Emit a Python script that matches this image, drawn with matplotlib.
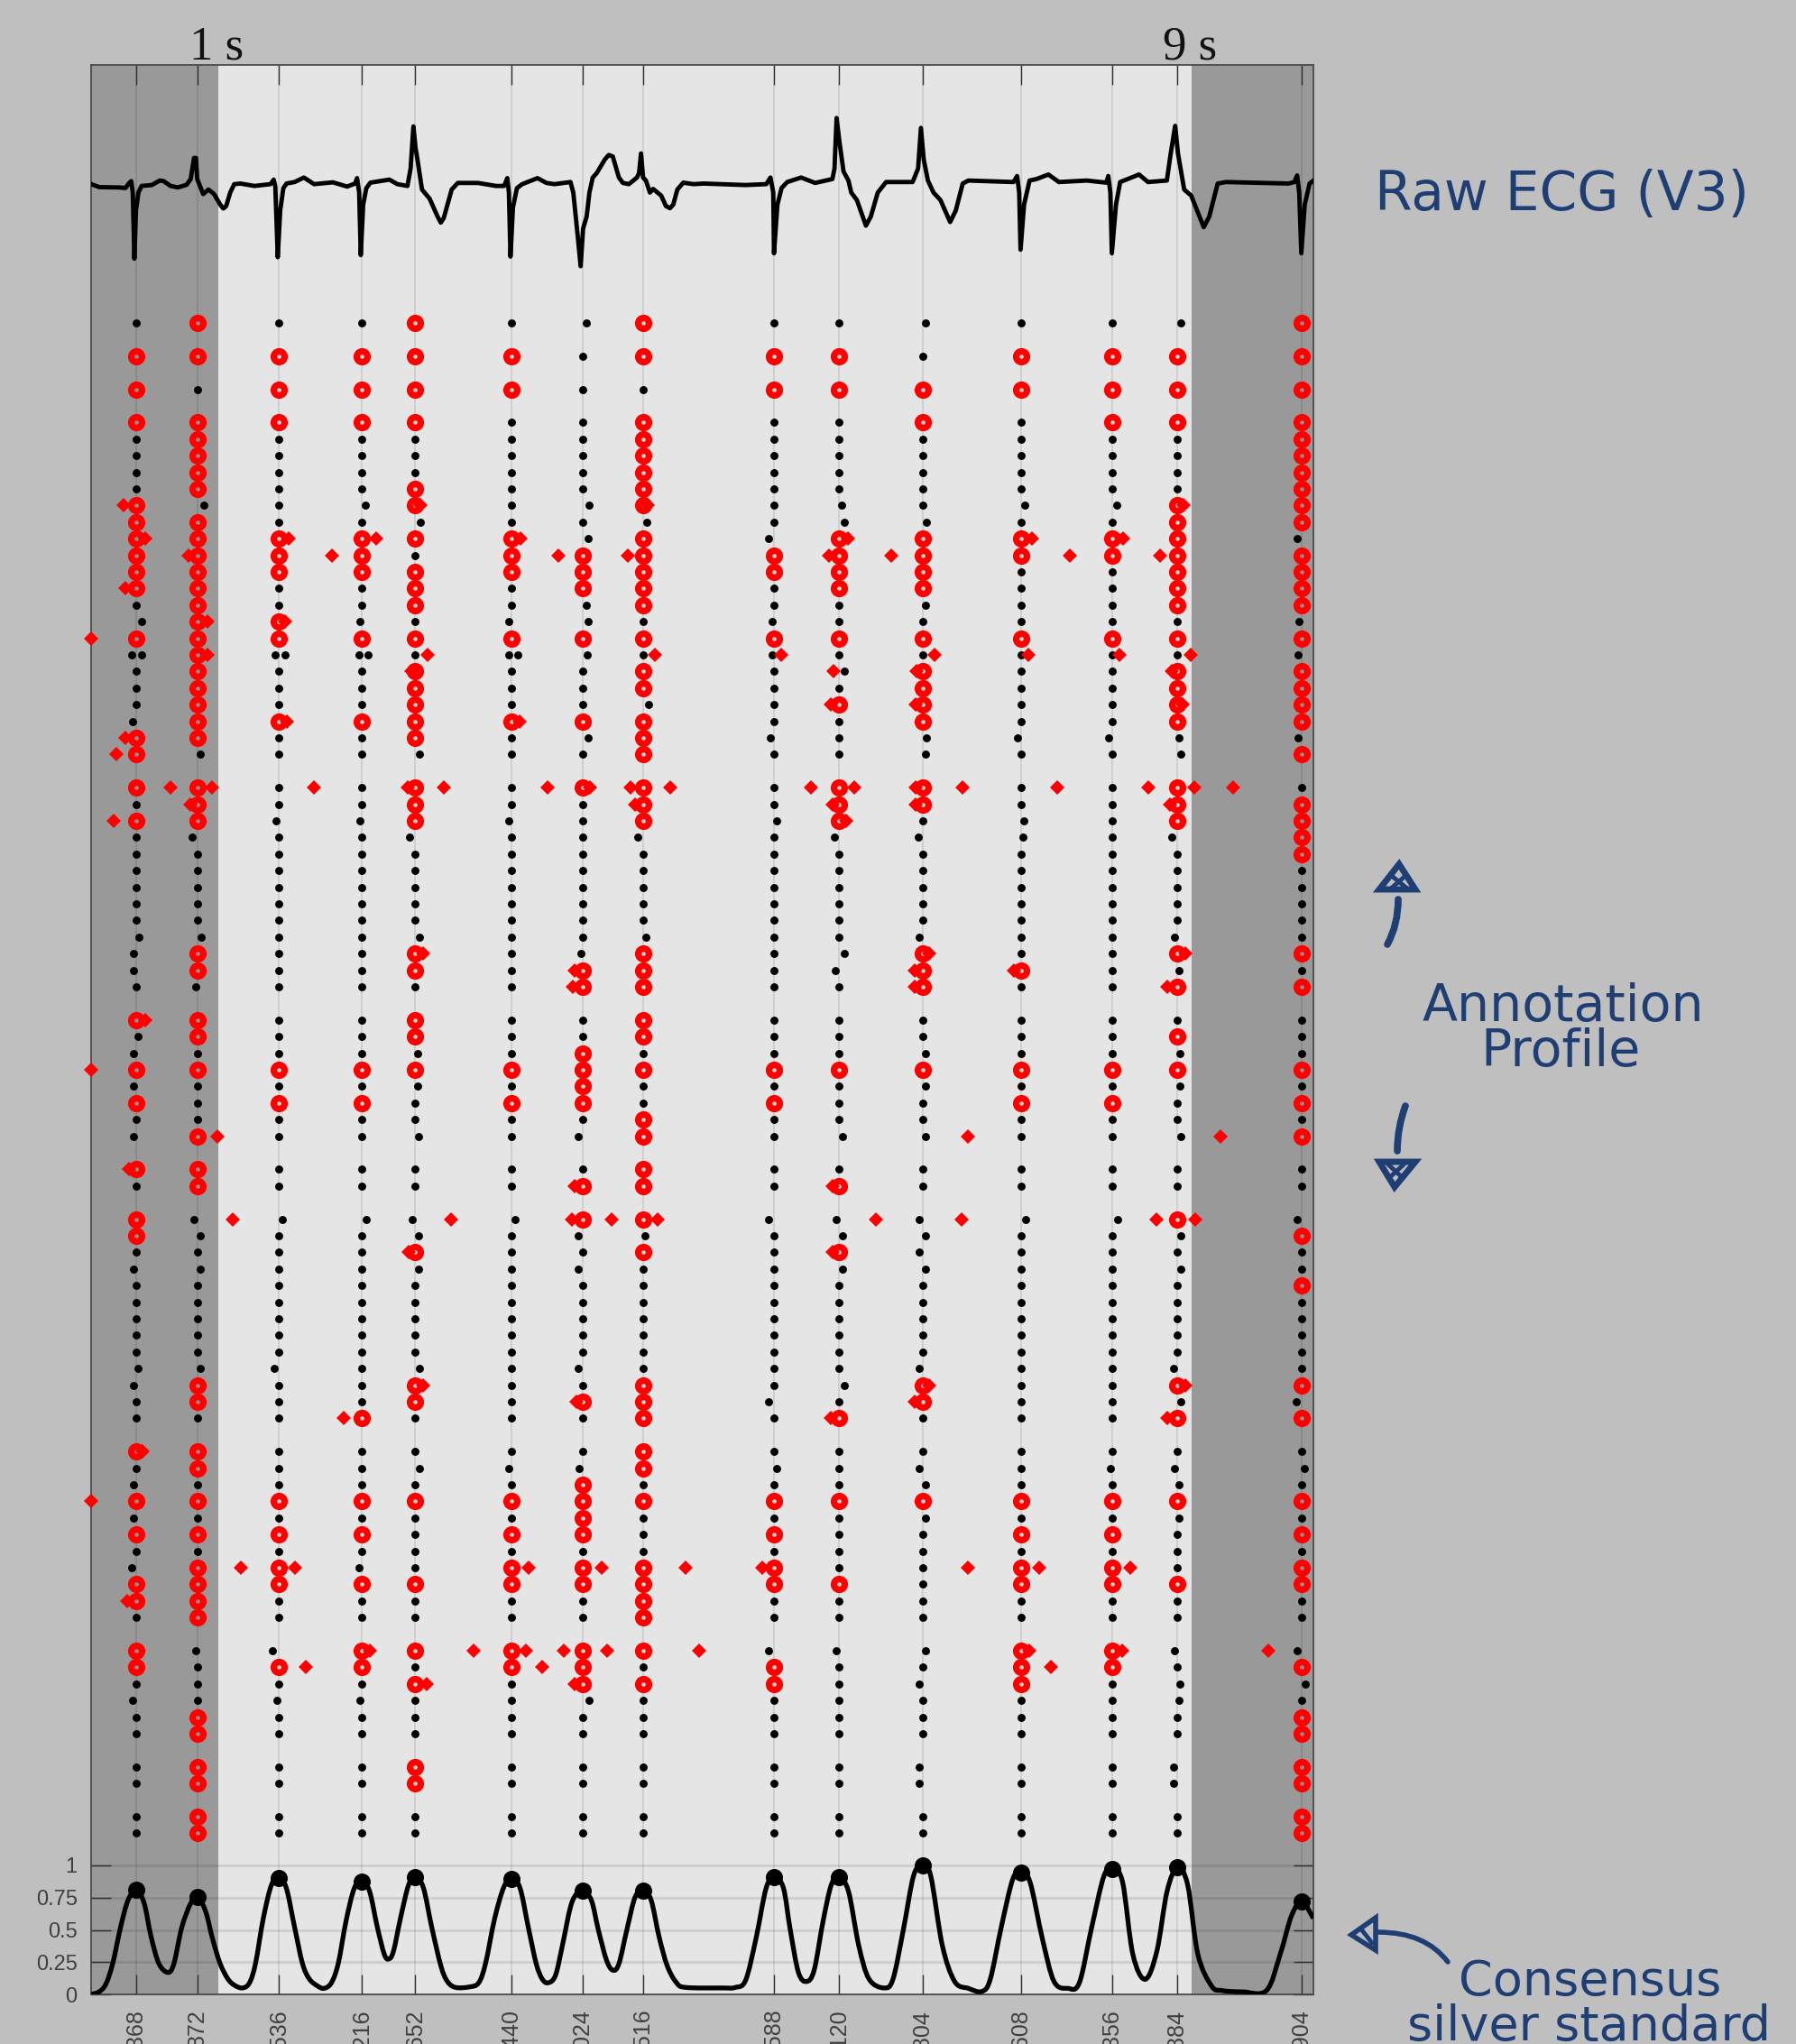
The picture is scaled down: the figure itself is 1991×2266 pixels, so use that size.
"""
ECG annotation profile: raw trace, per annotator beat marks and the consensus curve
"""
import matplotlib
matplotlib.use("Agg")
import matplotlib.pyplot as plt
from matplotlib.path import Path
from matplotlib.patches import PathPatch, Polygon

# beat positions in ms, also the tick labels
beats = [368, 872, 1536, 2216, 2652, 3440, 4024, 4516, 5588, 6120, 6804, 7608, 8356, 8884, 9904]
consensus_peaks = [0.81, 0.755, 0.90, 0.875, 0.91, 0.895, 0.805, 0.805, 0.91, 0.91, 1.0, 0.945, 0.97, 0.984, 0.717]

# raw ECG, arbitrary unit around the baseline
ecg_t = [1, 67, 232, 281, 308, 328, 341, 354, 367, 387, 413, 496, 562, 594, 650, 710, 782, 815, 842, 858, 868, 917,
         960, 1006, 1056, 1082, 1105, 1138, 1171, 1221, 1336, 1468, 1494, 1507, 1527, 1547, 1573, 1599, 1665, 1741,
         1824, 1978, 2094, 2160, 2176, 2193, 2206, 2226, 2252, 2285, 2440, 2506, 2588, 2614, 2637, 2654, 2670, 2707,
         2769, 2835, 2861, 2885, 2950, 3000, 3165, 3313, 3379, 3405, 3418, 3431, 3451, 3484, 3527, 3652, 3725, 3791,
         3922, 3945, 3985, 4005, 4025, 4054, 4077, 4104, 4137, 4203, 4235, 4268, 4318, 4351, 4400, 4466, 4483, 4499,
         4516, 4539, 4572, 4598, 4664, 4703, 4736, 4763, 4796, 4845, 4928,
         5011, 5353, 5524, 5558, 5581, 5587, 5615, 5649, 5695, 5809, 5923, 6065, 6082, 6099, 6122, 6156, 6196, 6219,
         6265, 6339, 6379, 6436, 6504, 6721, 6766, 6789, 6812, 6846, 6892, 6949, 7028, 7074, 7131, 7177, 7547, 7576,
         7593, 7604, 7633, 7678, 7735, 7832, 7918, 8145, 8305, 8322, 8339, 8351, 8385, 8419, 8573, 8647, 8801, 8829,
         8869, 8892, 8943, 9000, 9103, 9148, 9217, 9285, 9798, 9844, 9867, 9884, 9901, 9929, 9969, 10000]
ecg_v = [0.06, -0.04, -0.05, -0.07, 0.08, 0.16, -0.22, -2.42, -0.82, -0.22, 0.0, 0.03, 0.18, 0.16, 0.0, -0.05, 0.04,
         0.23, 0.93, 0.93, 0.23, -0.27, -0.12, -0.27, -0.62, -0.75, -0.67, -0.22, 0.06, 0.08, 0.0, 0.06, 0.21, -0.02,
         -2.37, -0.82, -0.07, 0.08, 0.13, 0.28, 0.06, 0.12, -0.02, 0.08, 0.26, -0.22, -2.30, -0.62, -0.07, 0.11, 0.21,
         0.06, 0.0, 0.58, 1.98, 1.28, 0.88, -0.12, -0.42, -1.02, -1.22, -1.07, -0.12, 0.10, 0.10, 0.0, 0.0, 0.26,
         -0.22, -2.35, -0.72, -0.07, 0.06, 0.26, 0.10, 0.06, 0.13, -0.22, -1.82, -2.67, -1.42, -1.02, -0.22, 0.28,
         0.43, 0.88, 1.03, 0.98, 0.28, 0.10, 0.06, 0.28, 0.43, 1.08, 0.28, 0.18, -0.22, -0.10, -0.32, -0.67, -0.74,
         -0.62, -0.12, 0.11, 0.06,
         0.08, 0.03, 0.06, 0.28, -0.22, -2.24, -0.62, -0.07, 0.13, 0.28, 0.10, 0.23, 0.58, 2.26, 1.48, 0.48, 0.18,
         -0.22, -0.47, -1.32, -1.02, -0.22, 0.13, 0.13, 0.58, 1.93, 0.88, 0.18, -0.22, -0.47, -1.20, -0.82, 0.08,
         0.18, 0.13, 0.33, -0.22, -2.12, -0.62, 0.18, 0.23, 0.38, 0.13, 0.18, 0.11, 0.33, -0.22, -2.24, -0.62, 0.13,
         0.38, 0.13, 0.18, 0.98, 2.0, 1.08, -0.12, -0.32, -1.37, -1.02, 0.08, 0.13, 0.08, 0.13, 0.35, -0.22, -2.24,
         -0.62, 0.08, 0.18]

# consensus silver standard curve
consensus_t = [0, 65, 121, 177, 241, 302, 369, 433, 490, 554, 629, 678, 742, 817, 874, 938, 994, 1055, 1119, 1175,
               1239, 1296, 1345, 1409, 1476, 1537, 1597, 1665, 1729, 1785, 1853, 1906, 1966, 2022, 2086, 2154, 2218,
               2278, 2342, 2399, 2436, 2474, 2531, 2598, 2655, 2719, 2787, 2862, 2915, 2982, 3095, 3171, 3227, 3302,
               3378, 3442, 3509, 3577, 3641, 3690, 3739, 3799, 3856, 3924, 3980, 4025, 4093, 4150, 4217, 4270, 4319,
               4383, 4451, 4518, 4582, 4646, 4714, 4790, 4865, 5158,
               5271, 5355, 5439, 5523, 5591, 5664, 5720, 5787, 5854, 5916, 5989, 6056, 6118, 6196, 6280, 6364, 6488,
               6561, 6645, 6729, 6802, 6869, 6964, 7065, 7177, 7289, 7357, 7446, 7541, 7609, 7682, 7783, 7878, 7990,
               8085, 8186, 8287, 8360, 8439, 8523, 8624, 8719, 8803, 8887, 8971, 9055, 9167, 9251, 9420, 9616, 9728,
               9823, 9907, 10000]
consensus_v = [0.0, 0.02, 0.08, 0.24, 0.52, 0.73, 0.81, 0.71, 0.45, 0.24, 0.17, 0.24, 0.52, 0.71, 0.755, 0.64, 0.43,
               0.24, 0.12, 0.07, 0.05, 0.09, 0.24, 0.59, 0.85, 0.90, 0.825, 0.52, 0.24, 0.12, 0.065, 0.047, 0.09, 0.24,
               0.57, 0.825, 0.875, 0.80, 0.52, 0.31, 0.275, 0.335, 0.59, 0.85, 0.91, 0.825, 0.52, 0.22, 0.10, 0.054,
               0.058, 0.09, 0.24, 0.59, 0.835, 0.895, 0.825, 0.52, 0.24, 0.12, 0.09, 0.147, 0.38, 0.685, 0.79, 0.805,
               0.73, 0.50, 0.264, 0.187, 0.24, 0.50, 0.755, 0.805, 0.73, 0.45, 0.22, 0.09, 0.054, 0.05,
               0.054, 0.11, 0.43, 0.825, 0.91, 0.825, 0.50, 0.17, 0.10, 0.19, 0.57, 0.85, 0.91, 0.80, 0.38, 0.12, 0.05,
               0.12, 0.50, 0.92, 1.0, 0.92, 0.38, 0.10, 0.047, 0.023, 0.12, 0.52, 0.895, 0.945, 0.87, 0.43, 0.10, 0.047,
               0.09, 0.52, 0.92, 0.97, 0.87, 0.31, 0.117, 0.334, 0.80, 0.984, 0.85, 0.31, 0.065, 0.03, 0.02, 0.03,
               0.31, 0.615, 0.717, 0.59]

# annotators (rows), counted from the top; these rows stay empty
n_rows = 92
empty_rows = [1, 3, 5, 27, 41, 50, 53, 67, 79, 86, 89]

# per row: the beats (column numbers) this annotator missed by a wide margin, drawn as red rings
every_beat = list(range(15))
red_cols = {
    0: [1, 4, 7, 14], 2: [0, 1, 2, 3, 4, 5, 7, 8, 9, 11, 12, 13, 14], 4: [0, 2, 3, 4, 5, 8, 9, 10, 11, 12, 13, 14],
    6: [0, 1, 2, 3, 4, 7, 10, 12, 13, 14], 7: [1, 7, 14], 8: [1, 7, 14], 9: [1, 7, 14], 10: [1, 4, 7, 14],
    11: [0, 4, 7, 13, 14], 12: [0, 1, 13, 14], 13: [0, 1, 2, 3, 4, 5, 7, 9, 10, 11, 12, 13],
    14: [0, 1, 2, 3, 5, 6, 7, 8, 9, 10, 11, 12, 13, 14], 15: [0, 1, 2, 3, 4, 5, 6, 7, 8, 9, 10, 13, 14],
    16: [0, 1, 4, 6, 7, 9, 10, 13, 14], 17: [1, 4, 7, 13, 14], 18: [1, 2], 19: every_beat, 20: [1],
    21: [1, 4, 7, 10, 13, 14], 22: [1, 4, 7, 10, 13, 14], 23: [1, 4, 9, 10, 13, 14],
    24: [1, 2, 3, 4, 5, 6, 7, 10, 13, 14], 25: [0, 1, 4, 7], 26: [0, 7, 14], 28: [0, 1, 4, 6, 7, 9, 10, 13],
    29: [1, 4, 7, 9, 10, 13, 14], 30: [0, 1, 4, 7, 9, 13, 14], 31: [14], 32: [14], 38: [1, 4, 7, 10, 13, 14],
    39: [1, 4, 6, 7, 10, 11], 40: [6, 7, 10, 13, 14], 42: [0, 1, 4, 7], 43: [1, 4, 7, 13], 44: [6], 45: every_beat,
    46: [6], 47: [0, 2, 3, 5, 6, 8, 11, 12, 14], 48: [7], 49: [1, 7, 14], 51: [0, 1, 7], 52: [1, 6, 7, 9],
    54: [0, 6, 7, 13], 55: [0, 14], 56: [4, 7, 9], 58: [14], 64: [1, 4, 7, 10, 13, 14], 65: [1, 4, 6, 7, 10],
    66: [3, 7, 9, 13, 14], 68: [0, 1, 7], 69: [1, 7], 70: [6], 71: every_beat, 72: [6],
    73: [0, 1, 2, 3, 5, 6, 8, 11, 12, 14], 75: [1, 2, 5, 6, 7, 8, 11, 12, 14],
    76: [0, 1, 2, 3, 4, 5, 6, 7, 8, 9, 11, 12, 13, 14], 77: [0, 1, 7], 78: [1, 7],
    80: [0, 3, 4, 5, 6, 7, 11, 12], 81: [0, 2, 3, 5, 6, 8, 11, 12, 14], 82: [4, 6, 7, 8, 11],
    84: [1, 14], 85: [1, 14], 87: [1, 4, 14], 88: [1, 4, 14], 90: [1, 14], 91: [1, 14],
}

# per row: off-consensus annotations in ms
diamonds = {
    11: [265, 2697, 4554, 8939], 13: [440, 1613, 2335, 3516, 6192, 7695, 8442],
    14: [794, 1974, 3825, 4393, 6037, 6547, 8004, 8746], 16: [278], 18: [955, 1587], 19: [0],
    20: [955, 2754, 4612, 5644, 6901, 7669, 8410, 8997], 21: [2619, 6076, 6753, 8842], 23: [6050, 6747, 8933],
    24: [1600, 3503], 25: [278], 26: [207],
    28: [652, 988, 1826, 2587, 2884, 3735, 4083, 4412, 4741, 5889, 6243, 6747, 7127, 7907, 8649, 9023, 9345],
    29: [813, 4451, 6069, 6747, 8829], 30: [181, 6179], 38: [2716, 6856, 8952], 39: [3954, 6740, 7552],
    40: [3941, 6740, 8804], 42: [440], 45: [0], 49: [1033, 7172, 9242], 51: [310], 52: [3954, 6069],
    54: [1155, 2948, 3935, 4257, 4638, 6424, 7120, 8713, 9036], 56: [2600, 6069], 64: [2716, 6856, 8952],
    65: [3967, 6740], 66: [2064, 6050, 8804], 68: [420], 71: [0],
    75: [1226, 1671, 3580, 4180, 4863, 5489, 7172, 7759, 8500], 77: [297],
    80: [2277, 3129, 3554, 3864, 4225, 4973, 7675, 8436, 9629], 81: [1755, 3690, 7849], 82: [2748, 3954],
}

# per row: black marks that sit visibly off the beat, column -> shift in ms
black_shift = {
    0: {6: 26, 10: 26, 13: 32}, 11: {1: 52, 3: 26, 6: 52, 9: 19, 11: 32, 12: 32},
    12: {4: 45, 7: 32, 9: 39, 10: 32}, 13: {6: 45, 8: -45, 14: -39}, 17: {6: 26, 10: 26},
    18: {0: 45, 3: -19, 5: -26, 6: 39, 8: -19, 14: -19}, 20: {0: -39, 2: -32, 3: -26, 5: -26, 6: 32, 8: -19, 14: -26},
    21: {9: 39}, 23: {7: 45}, 24: {0: -32}, 25: {6: 45, 8: -32, 10: 32, 11: -26, 12: -32, 13: 19, 14: -32},
    26: {1: 19, 4: 32, 10: 26, 13: 32}, 30: {2: -26, 3: -19, 5: -26, 8: 19, 11: 26},
    31: {1: -45, 4: -45, 7: -45, 9: -39, 10: -39, 11: 19, 13: -39},
    37: {0: 26, 1: 26, 4: 32, 7: 26, 10: -26, 13: -19}, 38: {0: -19, 6: -19, 9: 39}, 39: {0: -19, 9: -32, 13: 19},
    40: {1: -19}, 43: {0: 19}, 44: {0: -19, 4: 19, 10: 19, 13: 26}, 46: {0: -19, 4: 19, 10: 19, 13: 26},
    49: {0: -19, 4: 26, 6: -39, 9: 26, 10: 26, 13: 32},
    54: {1: -32, 2: 26, 3: 32, 4: -26, 5: 26, 8: -45, 9: -26, 10: -26, 11: 39, 12: 39, 14: -39},
    55: {1: 19, 4: 26, 6: -39, 7: 19, 9: 26, 10: 26, 13: 32}, 56: {10: -26},
    57: {0: -19, 1: 19, 4: 26, 6: -39, 9: 26, 10: 26, 13: 32},
    63: {0: 19, 1: 19, 2: -39, 4: 32, 6: -39, 10: -32, 13: -26}, 64: {0: -19, 9: 39},
    65: {8: -45, 13: 32, 14: -45}, 69: {4: 32, 5: -26, 6: -32, 8: 19, 10: -26, 12: -19, 13: -19, 14: 19},
    70: {0: -19, 10: 19, 13: 19}, 72: {0: -19, 10: 19, 13: 19}, 75: {0: -39, 3: -26},
    80: {1: -19, 2: -52, 8: -45, 9: -26, 10: 26, 13: -19, 14: -39}, 82: {10: -32, 13: 26, 14: 26},
    83: {0: -26, 2: -19, 3: -19, 6: 52, 13: 19}, 87: {10: -32, 13: -26}, 88: {10: -32, 13: -26},
}
# second mark of the rows where one annotator placed two beats
double_marks = {20: [414, 1587, 2264, 3490]}

NAVY = "#1f3e74"
BG = "#bfbfbf"


def row_y(row):
    # top annotator row sits at 12.96, in curve units
    return 12.958 - 0.12867 * row


def ecg_y(value):
    return 14.02 + value * 0.2331


def smooth_path(xs, ys):
    # catmull-rom handles so the read points are joined by bezier segments
    verts = [(xs[0], ys[0])]
    codes = [Path.MOVETO]
    n = len(xs)
    for i in range(n - 1):
        x0, y0 = xs[max(i - 1, 0)], ys[max(i - 1, 0)]
        x3, y3 = xs[min(i + 2, n - 1)], ys[min(i + 2, n - 1)]
        verts.append((xs[i] + (xs[i + 1] - x0) / 6, ys[i] + (ys[i + 1] - y0) / 6))
        verts.append((xs[i + 1] - (x3 - xs[i]) / 6, ys[i + 1] - (y3 - ys[i]) / 6))
        verts.append((xs[i + 1], ys[i + 1]))
        codes += [Path.CURVE4] * 3
    return Path(verts, codes)


def curve(axis, points, width):
    axis.add_patch(PathPatch(Path(points, [Path.MOVETO, Path.CURVE3, Path.CURVE3]), fill=False, ec=NAVY, lw=width,
                             capstyle="round"))


def scribble(axis, segments):
    for (x_a, y_a), (x_b, y_b) in segments:
        axis.plot([x_a, x_b], [y_a, y_b], color=NAVY, lw=3.5, solid_capstyle="round")


fig = plt.figure(figsize=(19.91, 22.66), dpi=100, facecolor=BG)
ax = fig.add_axes([101 / 1991, 55 / 2266, 1355 / 1991, 2139 / 2266], facecolor="#e5e5e5")
ax.set_xlim(0, 10000)
ax.set_ylim(0, 2139 / 143)

# darker first and last second
ax.axvspan(0, 1040, color="#999999", lw=0, zorder=0.4)
ax.axvspan(9005, 10000, color="#999999", lw=0, zorder=0.4)

ax.plot(ecg_t, [ecg_y(v) for v in ecg_v], color="black", lw=3.5, solid_joinstyle="round", zorder=3)
ax.add_patch(PathPatch(smooth_path(consensus_t, consensus_v), fill=False, ec="black", lw=3.8, zorder=3))
ax.plot(beats, consensus_peaks, "o", color="black", ms=13.7, mew=0, zorder=4, clip_on=False)

# annotation profile
for row in range(n_rows):
    if row in empty_rows:
        continue
    reds = red_cols.get(row, [])
    shifts = black_shift.get(row, {})
    black_x = [beats[c] + shifts.get(c, 0) for c in range(15) if c not in reds] + double_marks.get(row, [])
    red_x = [beats[c] for c in reds]
    y = row_y(row)
    ax.plot(black_x, [y] * len(black_x), "o", color="black", ms=6.4, mew=0, zorder=4)
    ax.plot(red_x, [y] * len(red_x), "o", mfc="none", mec="#ff0000", ms=8.6, mew=5.2, zorder=5)
    dia_x = diamonds.get(row, [])
    ax.plot(dia_x, [y] * len(dia_x), "D", color="#ff0000", ms=8, mew=0, zorder=5, clip_on=False)

# matlab style box, ticks pointing in
ax.set_xticks(beats)
ax.set_xticklabels([str(b) for b in beats], rotation=90, ha="center", va="top",
                   fontfamily="Liberation Sans", fontsize=18, color="#404040")
ax.set_yticks([0, 0.25, 0.5, 0.75, 1])
ax.set_yticklabels(["0", "0.25", "0.5", "0.75", "1"], fontfamily="Liberation Sans", fontsize=17, color="#404040")
ax.tick_params(axis="both", direction="in", length=16, width=1, color="#303030", top=True, right=True)
ax.tick_params(axis="x", pad=12)
ax.tick_params(axis="y", pad=11)
ax.set_axisbelow(True)
ax.grid(True, color="black", alpha=0.12, lw=1.1)
ax.yaxis.grid(True, color="black", alpha=0.1, lw=2)
for spine in ax.spines.values():
    spine.set_color("#4a4a4a")
    spine.set_linewidth(1.3)

# everything outside the axes is placed on a pixel sized overlay
over = fig.add_axes([0, 0, 1, 1], facecolor="none")
over.set_xlim(0, 1991)
over.set_ylim(2266, 0)
over.axis("off")

over.text(240, 65, "1 s", fontfamily="Liberation Serif", fontsize=38, color="#111111", ha="center", va="baseline")
over.text(1319, 65, "9 s", fontfamily="Liberation Serif", fontsize=38, color="#111111", ha="center", va="baseline")

hand = {"fontfamily": "DejaVu Sans", "color": NAVY, "ha": "center", "va": "baseline"}
over.text(1731, 233, "Raw ECG (V3)", fontsize=43, **hand)
over.text(1733, 1132, "Annotation", fontsize=41, **hand)
over.text(1730, 1182, "Profile", fontsize=41, **hand)
over.text(1763, 2212, "Consensus", fontsize=39, **hand)
over.text(1762, 2262, "silver standard", fontsize=39, **hand)

# hand drawn arrows
over.add_patch(Polygon([(1529, 986), (1551, 958), (1569, 986)], closed=True, fill=False, ec=NAVY, lw=5))
scribble(over, [((1544, 972), (1560, 985)), ((1558, 971), (1542, 985))])
curve(over, [(1550, 997), (1550, 1025), (1538, 1047)], 5.5)
over.add_patch(Polygon([(1529, 1288), (1569, 1288), (1546, 1316)], closed=True, fill=False, ec=NAVY, lw=5))
scribble(over, [((1538, 1290), (1553, 1304)), ((1556, 1291), (1542, 1304))])
curve(over, [(1558, 1226), (1549, 1250), (1549, 1276)], 5.5)
over.add_patch(Polygon([(1525, 2126), (1498, 2145), (1525, 2162)], closed=True, fill=False, ec=NAVY, lw=4))
scribble(over, [((1510, 2140), (1521, 2154))])
curve(over, [(1528, 2142), (1580, 2142), (1605, 2175)], 4)

fig.savefig("out.png", dpi=100, facecolor=fig.get_facecolor())
